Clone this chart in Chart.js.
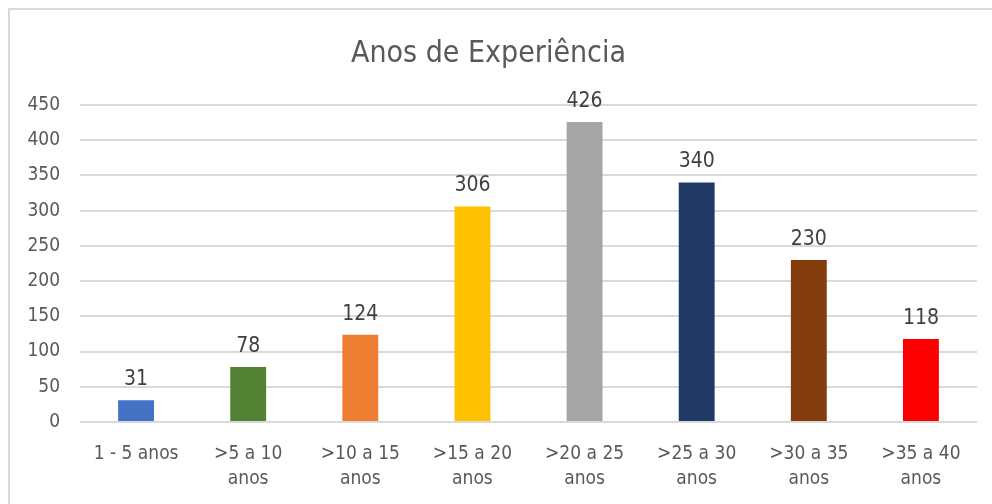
<!DOCTYPE html>
<html>
<head>
<meta charset="utf-8">
<script src="https://cdn.jsdelivr.net/npm/chart.js@4"></script>
<style>
    html, body { margin: 0; padding: 0; background: #fff; overflow: hidden; width: 992px; height: 504px; }
    #frame {
        position: absolute; left: 8px; top: 8px; width: 984px; height: 496px;
        box-sizing: border-box;
        border-top: 2px solid #d9d9d9; border-left: 2px solid #d9d9d9;
    }
    #wrap { position: absolute; left: 0; top: 0; width: 992px; height: 504px; }
</style>
</head>
<body>
<div id="frame"></div>
<div id="wrap"><canvas id="chart"></canvas></div>
<script>
// Daten
const categories = [
    '1 - 5 anos',
    ['>5 a 10', 'anos'],
    ['>10 a 15', 'anos'],
    ['>15 a 20', 'anos'],
    ['>20 a 25', 'anos'],
    ['>25 a 30', 'anos'],
    ['>30 a 35', 'anos'],
    ['>35 a 40', 'anos']
];
const values = [31, 78, 124, 306, 426, 340, 230, 118];
const barColors = ['#4472C4', '#548235', '#ED7D31', '#FFC000', '#A5A5A5', '#1F3864', '#843C0C', '#FF0000'];
const yTicks = [0, 50, 100, 150, 200, 250, 300, 350, 400, 450];

const FONT = '"Liberation Sans Narrow", "Arial Narrow", "DejaVu Sans Condensed", sans-serif';

// Werte über den Balken
const valueLabels = {
    id: 'valueLabels',
    afterDatasetsDraw(chart) {
        const ctx = chart.ctx;
        const meta = chart.getDatasetMeta(0);
        ctx.save();
        ctx.font = '21px ' + FONT;
        ctx.fillStyle = '#404040';
        ctx.textAlign = 'center';
        ctx.textBaseline = 'bottom';
        meta.data.forEach((bar, i) => {
            ctx.fillText(String(values[i]), bar.x, bar.y - 10);
        });
        ctx.restore();
    }
};

new Chart(document.getElementById('chart'), {
    type: 'bar',
    data: {
        labels: categories,
        datasets: [{
            data: values,
            backgroundColor: barColors,
            borderWidth: 0,
            categoryPercentage: 1,
            barPercentage: 0.32
        }]
    },
    options: {
        responsive: true,
        maintainAspectRatio: false,
        animation: false,
        layout: { padding: { left: 0, right: 15, top: 0, bottom: 0 } },
        plugins: {
            legend: { display: false },
            tooltip: { enabled: false },
            title: {
                display: true,
                text: 'Anos de Experiência',
                color: '#595959',
                font: { family: FONT, size: 30, weight: 'normal' },
                padding: { top: 36, bottom: 33 }
            }
        },
        scales: {
            x: {
                grid: { display: false },
                border: { display: false },
                ticks: {
                    color: '#595959',
                    font: { family: FONT, size: 19, lineHeight: 1.35 },
                    padding: 11,
                    maxRotation: 0,
                    autoSkip: false
                },
                afterFit(scale) { scale.height = 82; }
            },
            y: {
                min: 0,
                max: 450,
                afterBuildTicks(scale) { scale.ticks = yTicks.map(v => ({ value: v })); },
                grid: { color: '#d9d9d9', lineWidth: 2, drawTicks: false },
                border: { display: false },
                ticks: {
                    color: '#595959',
                    font: { family: FONT, size: 19 },
                    padding: 20
                },
                afterFit(scale) { scale.width = 80; }
            }
        }
    },
    plugins: [valueLabels]
});
</script>
</body>
</html>
